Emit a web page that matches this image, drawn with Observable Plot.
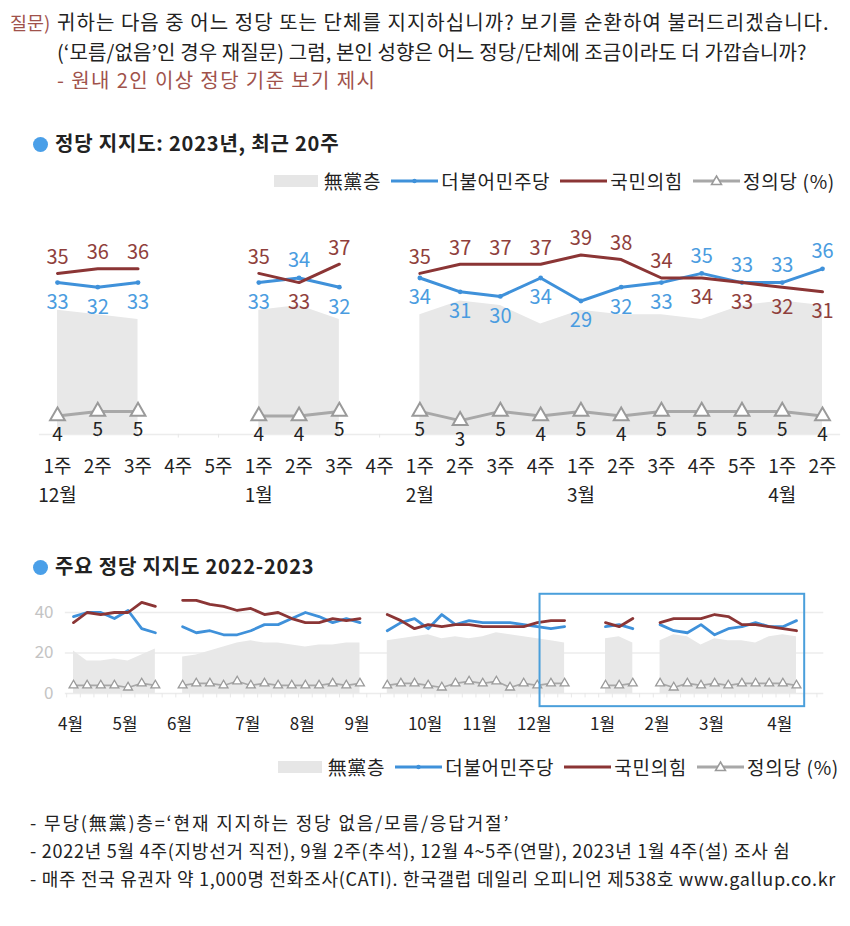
<!DOCTYPE html>
<html><head><meta charset="utf-8">
<script src="https://cdn.jsdelivr.net/npm/d3@7"></script>
<script src="https://cdn.jsdelivr.net/npm/@observablehq/plot@0.6"></script>
<style>
body{margin:0;background:#fff;font-family:"Noto Sans CJK KR","Noto Sans",sans-serif;color:#222;}
#page{position:relative;width:850px;height:926px;overflow:hidden;background:#fff;}
.abs{position:absolute;white-space:nowrap;}
.q{font-size:20px;line-height:24px;}
.red{color:#A0524B;}
.title{font-size:20px;font-weight:bold;line-height:26px;color:#222;letter-spacing:0.8px;}
.dotc{display:inline-block;width:15px;height:15px;border-radius:50%;background:#4A9FE8;vertical-align:-1px;margin-right:7px;}
.legend{display:flex;align-items:center;line-height:24px;font-size:19px;letter-spacing:0.7px;}
.legend span{display:inline-block;}
.legend svg{display:block;}
.note{font-size:18px;line-height:22px;color:#222;}
</style></head><body><div id="page">
<div class="abs q red" style="left:10px;top:10px;font-size:18.5px;">질문)</div>
<div class="abs q" style="left:57px;top:10px;letter-spacing:1.05px;">귀하는 다음 중 어느 정당 또는 단체를 지지하십니까? 보기를 순환하여 불러드리겠습니다.</div>
<div class="abs q" style="left:57px;top:40px;letter-spacing:0.1px;">(‘모름/없음’인 경우 재질문) 그럼, 본인 성향은 어느 정당/단체에 조금이라도 더 가깝습니까?</div>
<div class="abs q red" style="left:57px;top:68px;letter-spacing:1.4px;">- 원내 2인 이상 정당 기준 보기 제시</div>

<div class="abs title" style="left:33px;top:130px;"><span class="dotc"></span>정당 지지도: 2023년, 최근 20주</div>
<div id="legend1" class="abs legend" style="right:15px;top:169px;"></div>
<div id="chart1" class="abs" style="left:0;top:195px;"></div>

<div class="abs title" style="left:33px;top:553px;"><span class="dotc"></span>주요 정당 지지도 2022-2023</div>
<div id="chart2" class="abs" style="left:0;top:585px;"></div>
<div id="legend2" class="abs legend" style="right:11px;top:755px;"></div>

<div class="abs note" style="left:30px;top:811px;letter-spacing:1.85px;">- 무당(無黨)층=‘현재 지지하는 정당 없음/모름/응답거절’</div>
<div class="abs note" style="left:30px;top:839px;letter-spacing:0.75px;">- 2022년 5월 4주(지방선거 직전), 9월 2주(추석), 12월 4~5주(연말), 2023년 1월 4주(설) 조사 쉼</div>
<div class="abs note" style="left:30px;top:867px;letter-spacing:0.72px;">- 매주 전국 유권자 약 1,000명 전화조사(CATI). 한국갤럽 데일리 오피니언 제538호 www.gallup.co.kr</div>
</div>
<script>
// ---- data: weekly, 2022 Apr 1주 .. 2023 Apr 2주 (null = 조사 쉼)
const monthNames = ["4월","5월","6월","7월","8월","9월","10월","11월","12월","1월","2월","3월","4월"];
const monthWeeks = [4,4,5,4,4,5,4,4,5,4,4,5,2];
const seriesNames = ["無黨층","더불어민주당","국민의힘","정의당 (%)"];
const dp = [38,40,40,37, 41,32,30,null, 33,30,31,29,29, 31,34,34,37, 40,38,35,37, 35,null,31,35,37,
  32,39,34,36, 35,35,35,34, 33,32,33,null,null, 33,34,32,null, 34,31,30,34, 29,32,33,35,33, 33,36];
const ppp = [35,40,39,40, 40,45,43,null, 46,46,44,43,41, 42,39,40,37, 35,35,37,36, 37,null,39,36,32,
  34,33,34,34, 33,33,33,33, 35,36,36,null,null, 35,33,37,null, 35,37,37,37, 39,38,34,34,33, 32,31];
const jus = [4,4,4,4, 3,5,4,null, 4,5,5,4,6, 4,5,4,4, 4,4,5,4, 5,null,4,5,5,
  4,3,5,6, 5,6,3,5, 4,5,5,null,null, 4,4,5,null, 5,3,5,4, 5,4,5,5,5, 5,4];
const ind = [21,16,16,17, 16,19,22,null, 18,19,21,23,25, 26,25,25,24, 23,24,24,25, 25,null,26,27,28,
  29,27,28,27, 28,30,29,28, 27,26,25,null,null, 27,28,25,null, 26,29,28,24, 27,26,26,25,28, 29,28];

const blue = "#3F91DA", blueText = "#4A9CE0", red = "#8B3535", redText = "#8F3F3C", gray = "#A8A8A8";
const weeks = [];
monthNames.forEach((m, mi) => { for (let w = 1; w <= monthWeeks[mi]; w++) weeks.push({month: m, week: w}); });
const rows = weeks.map((d, i) => ({...d, i, dp: dp[i], ppp: ppp[i], jus: jus[i], ind: ind[i]}));
const recent = rows.slice(-20).map((d, k) => ({...d, k}));
const font = {fontFamily: '"Noto Sans CJK KR","Noto Sans",sans-serif', background: "transparent", overflow: "visible"};

// ---- top chart
{
  const H = 320, y0 = 238.9, ppu = 4.6;
  const has = k => k != null;
  const dpUp = recent.filter(d => has(d.dp) && d.dp >= d.ppp);
  const dpDn = recent.filter(d => has(d.dp) && d.dp < d.ppp);
  const pUp = recent.filter(d => has(d.ppp) && d.ppp > d.dp);
  const pDn = recent.filter(d => has(d.ppp) && d.ppp <= d.dp);
  const chart = Plot.plot({
    width: 850, height: H, marginTop: 0, marginLeft: 0, marginRight: 0, marginBottom: H - y0,
    style: font,
    x: {domain: [0, 19], range: [57, 822], axis: null},
    y: {domain: [0, 45], range: [y0, y0 - 45 * ppu], axis: null},
    marks: [
      Plot.ruleY([0], {x1: -0.45, x2: 19.45, stroke: "#ececec", strokeWidth: 1.5}),
      Plot.ruleX(recent, {x: "k", y1: 0, y2: -0.8, stroke: "#e6e6e6"}),
      Plot.areaY(recent, {x: "k", y1: 0, y2: "ind", fill: "#e8e8e8"}),
      Plot.lineY(recent, {x: "k", y: "jus", stroke: gray, strokeWidth: 3}),
      Plot.dot(recent, {x: "k", y: "jus", symbol: "triangle", r: 5.5, fill: "white", stroke: "#9a9a9a", strokeWidth: 2}),
      Plot.lineY(recent, {x: "k", y: "dp", stroke: blue, strokeWidth: 3}),
      Plot.dot(recent, {x: "k", y: "dp", r: 2.4, fill: blue}),
      Plot.lineY(recent, {x: "k", y: "ppp", stroke: red, strokeWidth: 3}),
      Plot.text(pUp, {x: "k", y: "ppp", text: "ppp", dy: -16, fill: redText, fontSize: 20}),
      Plot.text(pDn, {x: "k", y: "ppp", text: "ppp", dy: 20, fill: redText, fontSize: 20}),
      Plot.text(dpUp, {x: "k", y: "dp", text: "dp", dy: -17, fill: blueText, fontSize: 20}),
      Plot.text(dpDn, {x: "k", y: "dp", text: "dp", dy: 20, fill: blueText, fontSize: 20}),
      Plot.text(recent.filter(d => has(d.jus)), {x: "k", y: "jus", text: "jus", dy: 19, fill: "#222", fontSize: 19}),
      Plot.axisX({ticks: d3.range(20), tickFormat: k => recent[k].week + "주", tickSize: 0, tickPadding: 25, fontSize: 19, color: "#222", label: null}),
      Plot.axisX({ticks: recent.filter(d => d.week === 1).map(d => d.k), tickFormat: k => recent[k].month, tickSize: 0, tickPadding: 54, fontSize: 19, color: "#222", label: null})
    ]
  });
  document.getElementById("chart1").append(chart);
}

// ---- bottom chart
{
  const H = 160, y0 = 108, ppu = 2.025;
  const n = rows.length;
  const monthStarts = rows.filter(d => d.week === 1).map(d => d.i);
  const first = recent[0].i, last = recent[recent.length - 1].i;
  const chart = Plot.plot({
    width: 850, height: H, marginTop: 0, marginLeft: 60, marginRight: 0, marginBottom: H - y0,
    style: font,
    x: {domain: [0, n - 1], range: [73, 796], axis: null},
    y: {domain: [0, 40], range: [y0, y0 - 40 * ppu], axis: null},
    marks: [
      Plot.ruleY([20, 40], {x1: -0.6, x2: n + 1, stroke: "#ececec", strokeWidth: 1.3}),
      Plot.ruleY([0], {x1: -0.6, x2: n + 1, stroke: "#ececec", strokeWidth: 1.3}),
      Plot.ruleX(d3.range(-0.5, n + 1, 1), {x: d => d, y1: 0, y2: -2.2, stroke: "#e8e8e8"}),
      Plot.areaY(rows, {x: "i", y1: 0, y2: "ind", fill: "#e8e8e8"}),
      Plot.lineY(rows, {x: "i", y: "jus", stroke: gray, strokeWidth: 1.6}),
      Plot.dot(rows, {x: "i", y: "jus", symbol: "triangle", r: 3.3, fill: "white", stroke: "#9a9a9a", strokeWidth: 1.3}),
      Plot.lineY(rows, {x: "i", y: "dp", stroke: blue, strokeWidth: 2.8}),
      Plot.lineY(rows, {x: "i", y: "ppp", stroke: red, strokeWidth: 2.8}),
      Plot.rect([{x1: first + 0.2, x2: last + 0.6, y1: -6.5, y2: 49}], {x1: "x1", x2: "x2", y1: "y1", y2: "y2", fill: "none", stroke: "#4A9FDB", strokeWidth: 2}),
      Plot.axisY({ticks: [0, 20, 40], tickSize: 0, tickPadding: 7, fontSize: 17, color: "#c4c4c4", label: null}),
      Plot.axisX({ticks: monthStarts, tickFormat: i => rows[i].month, tickSize: 0, tickPadding: 24, fontSize: 17, color: "#222", dx: -3, label: null})
    ]
  });
  document.getElementById("chart2").append(chart);
}

// ---- legends
function legend(el) {
  const host = document.getElementById(el);
  const sw = (html, w) => `<svg width="${w}" height="14">${html}</svg>`;
  const items = [
    sw(`<rect x="0" y="1" width="44" height="12" fill="#e6e6e6"/>`, 44),
    sw(`<line x1="0" y1="7" x2="47" y2="7" stroke="${blue}" stroke-width="3"/><circle cx="23.5" cy="7" r="2.2" fill="${blue}"/>`, 47),
    sw(`<line x1="0" y1="7" x2="47" y2="7" stroke="${red}" stroke-width="3"/>`, 47),
    sw(`<line x1="0" y1="7" x2="47" y2="7" stroke="${gray}" stroke-width="3"/><path d="M23.5,2 L28.5,10.5 L18.5,10.5 Z" fill="white" stroke="#9a9a9a" stroke-width="1.5"/>`, 47)
  ];
  host.innerHTML = seriesNames.map((s, j) =>
    `<span style="margin-left:${j ? 10 : 0}px">${items[j]}</span><span style="margin-left:${j ? 3 : 6}px">${s}</span>`).join("");
}
legend("legend1");
legend("legend2");
</script>
</body></html>
